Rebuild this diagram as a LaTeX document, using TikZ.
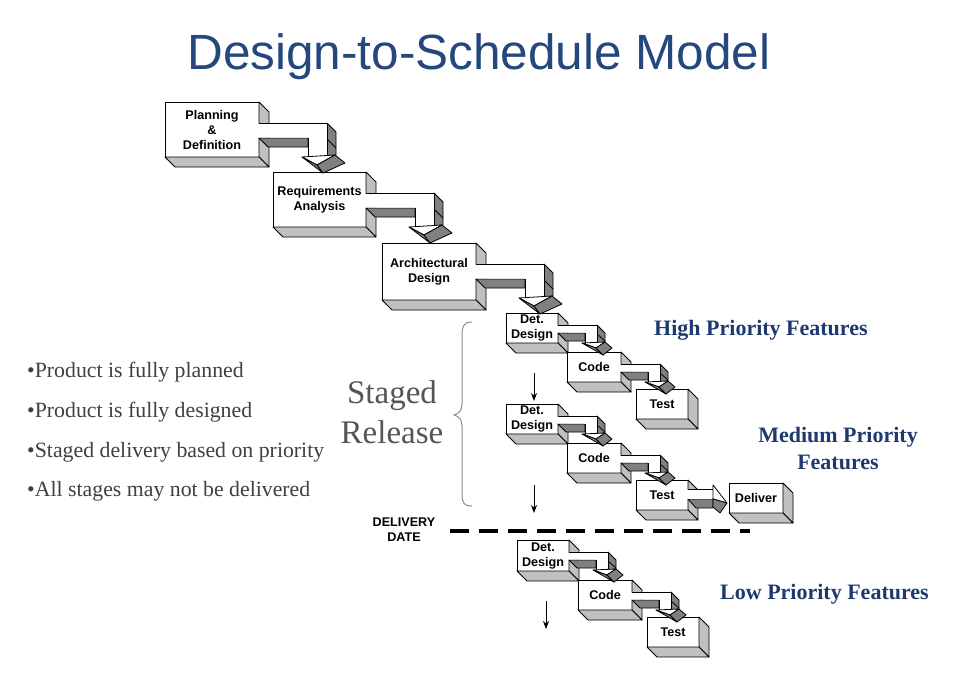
\documentclass[tikz,border=0pt]{standalone}
\usepackage{fontspec}
\setmainfont{Liberation Serif}
\setsansfont{Liberation Sans}
\usetikzlibrary{arrows.meta}

\definecolor{titleblue}{RGB}{36,71,126}
\definecolor{prioblue}{RGB}{30,57,110}
\definecolor{bodygray}{RGB}{64,64,64}
\definecolor{stagegray}{RGB}{85,85,85}
\definecolor{sidegray}{RGB}{192,192,192}
\definecolor{arrowgray}{RGB}{128,128,128}
\definecolor{bracegray}{RGB}{140,140,140}

\tikzset{
  tdfront/.style={draw, fill=white, line width=0.8pt, inner sep=0pt, outer sep=0pt,
    anchor=north west, align=center,
    font=\sffamily\bfseries\fontsize{12.6}{15}\selectfont},
  tdside/.style={draw, fill=sidegray, line width=0.8pt, line join=round},
  ardark/.style={draw, fill=arrowgray, line width=0.8pt, line join=round},
  arwhite/.style={draw, fill=white, line width=0.8pt, line join=round},
  arline/.style={line width=0.8pt, line join=round},
  bullet/.style={anchor=base west, inner sep=0pt, text=bodygray, font=\fontsize{21.8}{26}\selectfont},
  prio/.style={inner sep=0pt, text=prioblue, font=\bfseries\fontsize{22}{27}\selectfont},
  downarrow/.style={line width=1pt, -{Stealth[length=8pt,width=6pt]}},
}

% raised box: white front face plus grey right and bottom faces
\newcommand\tdbox[6]{%
  \node[tdfront, minimum width=#4pt, minimum height=#5pt] (#1) at (#2,#3) {#6};
  \path[tdside] (#1.north east) -- ++(10,10) -- ([shift={(10,10)}]#1.south east)
    -- (#1.south east) -- cycle;
  \path[tdside] (#1.south west) -- ++(10,10) -- ([shift={(10,10)}]#1.south east)
    -- (#1.south east) -- cycle;
}

% large bent 3-D arrow leaving the right side of a box and turning down
\newcommand\bendbig[1]{%
  \begin{scope}[shift={(#1.north east)}]
    \path[ardark] (0,36) -- (49,36) -- (49,45) -- (9,45) -- cycle;
    \path[ardark] (68,21) -- (77,30) -- (77,53) -- (68,55) -- cycle;
    \draw[arline] (68,37) -- (77,46);
    \fill[white] (-1,21.5) -- (68,21.5) -- (68,55) -- (49,55) -- (49,35.5) -- (-1,35.5) -- cycle;
    \draw[arline] (0,21) -- (68,21) -- (68,55);
    \draw[arline] (49,55) -- (49,36);
    % head
    \path[arwhite] (43,55) -- (76,53) -- (58,63) -- cycle;
    \path[ardark] (43,55) -- (58,63) -- (64,71) -- cycle;
    \path[ardark] (58,63) -- (76,53) -- (86,61) -- (64,71) -- cycle;
  \end{scope}}

% small bent 3-D arrow
\newcommand\bendsmall[1]{%
  \begin{scope}[shift={(#1.north east)}]
    \path[ardark] (0,20) -- (27,20) -- (27,28) -- (8,28) -- cycle;
    \path[ardark] (39,12) -- (47,20) -- (47,29) -- (39,30) -- cycle;
    \draw[arline] (39,21) -- (47,28);
    \fill[white] (-1,12.5) -- (39,12.5) -- (39,30) -- (27,30) -- (27,19.5) -- (-1,19.5) -- cycle;
    \draw[arline] (0,12) -- (39,12) -- (39,30);
    \draw[arline] (27,30) -- (27,20);
    % head
    \path[arwhite] (24,30) -- (47,29) -- (38,35) -- cycle;
    \path[ardark] (24,30) -- (38,35) -- (45,42) -- cycle;
    \path[ardark] (38,35) -- (47,29) -- (54,35) -- (45,42) -- cycle;
  \end{scope}}

% straight 3-D arrow pointing right
\newcommand\straightarrow[1]{%
  \begin{scope}[shift={(#1.north east)}]
    \path[ardark] (0,19) -- (25,19) -- (25,28) -- (8,28) -- cycle;
    \fill[white] (-1,9.5) -- (25,9.5) -- (25,18.5) -- (-1,18.5) -- cycle;
    \draw[arline] (0,9) -- (25,9);
    \path[arwhite] (25,5) -- (39,23) -- (25,19) -- cycle;
    \path[ardark] (25,19) -- (39,23) -- (32,33) -- (25,27) -- cycle;
  \end{scope}}

\begin{document}
\begin{tikzpicture}[x=1pt, y=-1pt]
  \useasboundingbox (0,0) rectangle (957,674);
  \fill[white] (0,0) rectangle (957,674);

  % title
  \node[anchor=base, inner sep=0pt, text=titleblue, font=\sffamily\fontsize{49.5}{60}\selectfont]
    (title) at (479,70) {Design-to-Schedule Model};

  % waterfall front end
  \tdbox{pd}{165}{102}{94}{55}{Planning\\\&\\Definition}
  \tdbox{ra}{273}{172}{93}{55}{Requirements\\Analysis}
  \tdbox{ad}{382}{243}{94}{57}{Architectural\\Design}

  % high priority stage
  \tdbox{dd1}{506}{313}{52}{30}{Det.\\Design}
  \tdbox{cd1}{567}{352}{54}{30}{Code}
  \tdbox{ts1}{636}{389}{52}{30}{Test}

  % medium priority stage
  \tdbox{dd2}{506}{404}{52}{30}{Det.\\Design}
  \tdbox{cd2}{567}{443}{54}{30}{Code}
  \tdbox{ts2}{636}{480}{52}{30}{Test}
  \tdbox{dv}{729}{483}{54}{30}{Deliver}

  % low priority stage
  \tdbox{dd3}{517}{540}{52}{31}{Det.\\Design}
  \tdbox{cd3}{578}{580}{54}{30}{Code}
  \tdbox{ts3}{647}{617}{52}{30}{Test}

  % connectors
  \bendbig{pd}
  \bendbig{ra}
  \bendbig{ad}
  \bendsmall{dd1}
  \bendsmall{cd1}
  \bendsmall{dd2}
  \bendsmall{cd2}
  \straightarrow{ts2}
  \bendsmall{dd3}
  \bendsmall{cd3}

  % stage-to-stage arrows
  \coordinate (s1a) at (534,373);
  \coordinate (s1b) at (534,401);
  \coordinate (s2a) at (534,485);
  \coordinate (s2b) at (534,513);
  \coordinate (s3a) at (546,601);
  \coordinate (s3b) at (546,629);
  \draw[downarrow] (s1a) -- (s1b);
  \draw[downarrow] (s2a) -- (s2b);
  \draw[downarrow] (s3a) -- (s3b);

  % priority labels
  \node[prio, anchor=base west] (hp) at (654,335) {High Priority Features};
  \node[prio, anchor=base] (mp) at (838,442) {Medium Priority};
  \node[prio, anchor=base] (mpf) at (838,469) {Features};
  \node[prio, anchor=base west] (lp) at (720,599) {Low Priority Features};

  % delivery date line
  \node[align=center, font=\sffamily\bfseries\fontsize{12.6}{15}\selectfont]
    (dd) at (404,530) {DELIVERY\\DATE};
  \coordinate (dla) at (450,531);
  \coordinate (dlb) at (750,531);
  \draw[line width=4pt, dash pattern=on 19pt off 10pt] (dla) -- (dlb);

  % staged release brace
  \draw[bracegray, line width=1pt]
    (472,322) .. controls (464,322) and (462,326) .. (462,336) -- (462,404)
    .. controls (462,411) and (458,414) .. (454,415)
    .. controls (458,416) and (462,419) .. (462,426) -- (462,494)
    .. controls (462,503) and (464,506) .. (472,506);
  \node[anchor=base, inner sep=0pt, text=stagegray, font=\fontsize{33}{40}\selectfont] (st1) at (392,403) {Staged};
  \node[anchor=base, inner sep=0pt, text=stagegray, font=\fontsize{33}{40}\selectfont] (st2) at (392,443) {Release};

  % bullet list
  \node[bullet] (b1) at (27,377) {•Product is fully planned};
  \node[bullet] (b2) at (27,417) {•Product is fully designed};
  \node[bullet] (b3) at (27,457) {•Staged delivery based on priority};
  \node[bullet] (b4) at (27,496) {•All stages may not be delivered};
\end{tikzpicture}
\end{document}
